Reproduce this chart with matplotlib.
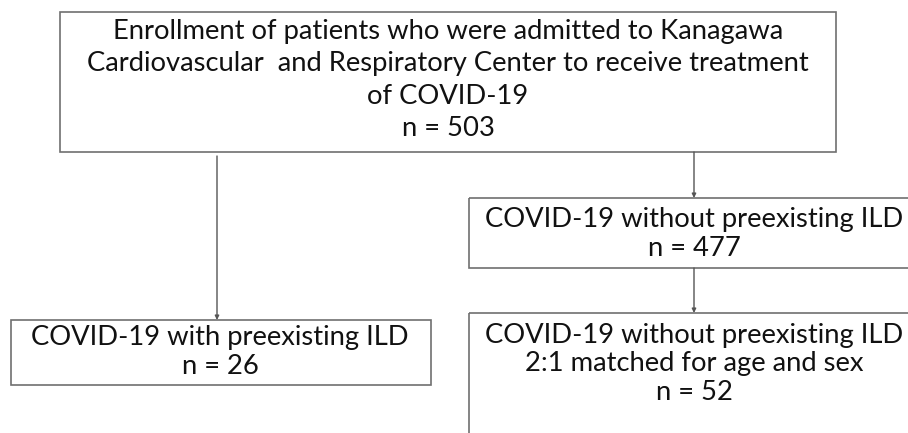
import matplotlib

matplotlib.use("Agg")
import matplotlib.pyplot as plt
from matplotlib.patches import Rectangle

plt.rcParams["font.family"] = ["Lato", "DejaVu Sans"]

# flowchart content
box_titles = [
    "Enrollment of patients who were admitted to Kanagawa\n"
    "Cardiovascular  and Respiratory Center to receive treatment\n"
    "of COVID-19",
    "COVID-19 with preexisting ILD",
    "COVID-19 without preexisting ILD",
    "COVID-19 without preexisting ILD\n2:1 matched for age and sex",
]
box_counts = [503, 26, 477, 52]

# layout in pixel units (x0, y0, x1, y1), y grows downward
box_rects = [
    (60, 12, 836, 152),
    (11, 320, 431, 385),
    (469, 198, 925, 268),
    (469, 313, 925, 450),
]
text_centers = [(448, 80), (220, 352), (694, 234), (694, 364)]
line_gaps = [1.37, 1.17, 1.17, 1.17]
arrows = [(217, 156, 320), (694, 152, 198), (694, 268, 313)]

W, H = 908, 433
fig = plt.figure(figsize=(W / 100, H / 100), dpi=100)
ax = fig.add_axes([0, 0, 1, 1])
ax.set_xlim(0, W)
ax.set_ylim(H, 0)
ax.axis("off")

for (x0, y0, x1, y1), title, n, (cx, cy), gap in zip(
        box_rects, box_titles, box_counts, text_centers, line_gaps):
    ax.add_patch(Rectangle((x0, y0), x1 - x0, y1 - y0, fill=False,
                           edgecolor="#707070", linewidth=1.2))
    ax.text(cx, cy, f"{title}\nn = {n}", ha="center", va="center",
            fontsize=19.7, color="#111111", linespacing=gap)

for x, y_start, y_end in arrows:
    ax.annotate("", xy=(x, y_end), xytext=(x, y_start),
                arrowprops=dict(arrowstyle="-|>", color="#555555", lw=1.0,
                                mutation_scale=6, shrinkA=0, shrinkB=0))

fig.savefig("out.png", dpi=100)
